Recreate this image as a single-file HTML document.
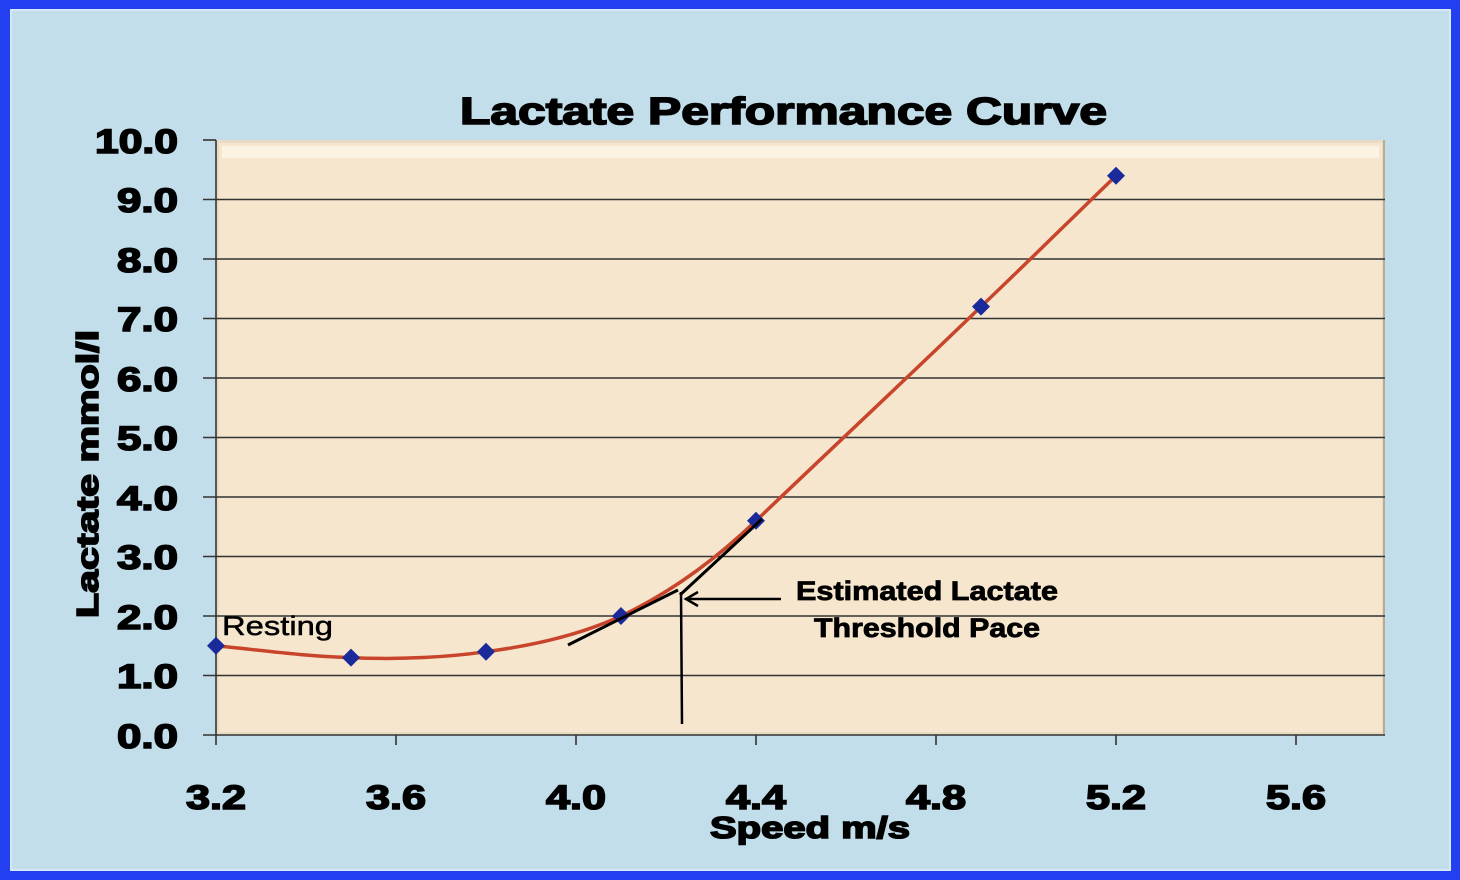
<!DOCTYPE html>
<html><head><style>
html,body{margin:0;padding:0;background:#fff;}
svg{display:block;}
text{font-family:"Liberation Sans",Arial,sans-serif;font-weight:bold;fill:#000;}
.hv{stroke:#000;stroke-width:1.6px;}
</style></head><body>
<svg width="1460" height="880" viewBox="0 0 1460 880" xmlns="http://www.w3.org/2000/svg">
<rect x="0" y="0" width="1460" height="880" fill="#2340f0"/>
<rect x="10" y="9" width="1441" height="862" fill="#d6e8f2"/>
<rect x="12" y="11" width="1437" height="858" fill="#c2deea"/>
<rect x="216" y="140" width="1169" height="595" fill="#e8dcc4"/>
<rect x="219" y="143" width="1163" height="589" fill="#f5e6cd"/>
<rect x="222" y="146" width="1157" height="12" fill="#fdf6ea" opacity="0.8"/>
<line x1="216" y1="140" x2="216" y2="735" stroke="#555" stroke-width="2"/>
<line x1="1384" y1="140" x2="1384" y2="735" stroke="#b9ac95" stroke-width="2"/>
<g stroke="#333" stroke-width="1.6">
<line x1="203" y1="140" x2="216" y2="140"/>
<line x1="203" y1="199.5" x2="1385" y2="199.5"/>
<line x1="203" y1="259" x2="1385" y2="259"/>
<line x1="203" y1="318.5" x2="1385" y2="318.5"/>
<line x1="203" y1="378" x2="1385" y2="378"/>
<line x1="203" y1="437.5" x2="1385" y2="437.5"/>
<line x1="203" y1="497" x2="1385" y2="497"/>
<line x1="203" y1="556.5" x2="1385" y2="556.5"/>
<line x1="203" y1="616" x2="1385" y2="616"/>
<line x1="203" y1="675.5" x2="1385" y2="675.5"/>
<line x1="203" y1="735" x2="1385" y2="735"/>
<line x1="216" y1="735" x2="216" y2="745"/>
<line x1="396" y1="735" x2="396" y2="745"/>
<line x1="576" y1="735" x2="576" y2="745"/>
<line x1="756" y1="735" x2="756" y2="745"/>
<line x1="936" y1="735" x2="936" y2="745"/>
<line x1="1116" y1="735" x2="1116" y2="745"/>
<line x1="1296" y1="735" x2="1296" y2="745"/>
</g>
<g font-size="34" class="hv">
<text x="95" y="153" textLength="83" lengthAdjust="spacingAndGlyphs">10.0</text>
<text x="117" y="212" textLength="61" lengthAdjust="spacingAndGlyphs">9.0</text>
<text x="117" y="272" textLength="61" lengthAdjust="spacingAndGlyphs">8.0</text>
<text x="117" y="331" textLength="61" lengthAdjust="spacingAndGlyphs">7.0</text>
<text x="117" y="391" textLength="61" lengthAdjust="spacingAndGlyphs">6.0</text>
<text x="117" y="450" textLength="61" lengthAdjust="spacingAndGlyphs">5.0</text>
<text x="117" y="510" textLength="61" lengthAdjust="spacingAndGlyphs">4.0</text>
<text x="117" y="569" textLength="61" lengthAdjust="spacingAndGlyphs">3.0</text>
<text x="117" y="629" textLength="61" lengthAdjust="spacingAndGlyphs">2.0</text>
<text x="117" y="688" textLength="61" lengthAdjust="spacingAndGlyphs">1.0</text>
<text x="117" y="748" textLength="61" lengthAdjust="spacingAndGlyphs">0.0</text>
</g>
<g font-size="34" class="hv">
<text x="186" y="809" textLength="60" lengthAdjust="spacingAndGlyphs">3.2</text>
<text x="366" y="809" textLength="60" lengthAdjust="spacingAndGlyphs">3.6</text>
<text x="546" y="809" textLength="60" lengthAdjust="spacingAndGlyphs">4.0</text>
<text x="726" y="809" textLength="60" lengthAdjust="spacingAndGlyphs">4.4</text>
<text x="906" y="809" textLength="60" lengthAdjust="spacingAndGlyphs">4.8</text>
<text x="1086" y="809" textLength="60" lengthAdjust="spacingAndGlyphs">5.2</text>
<text x="1266" y="809" textLength="60" lengthAdjust="spacingAndGlyphs">5.6</text>
</g>
<text x="710" y="838" font-size="31" class="hv" textLength="200" lengthAdjust="spacingAndGlyphs">Speed m/s</text>
<text transform="translate(98,618) rotate(-90)" font-size="31" class="hv" textLength="288" lengthAdjust="spacingAndGlyphs">Lactate mmol/l</text>
<text x="460" y="124" font-size="38" class="hv" textLength="647" lengthAdjust="spacingAndGlyphs">Lactate Performance Curve</text>
<path d="M216,645.8 C260,650 300,656 351,657.6 C400,660 450,657 486,651.7 C530,646 580,635 621,616 C670,593 715,560 756,520.8 C830,450 905,380 981,306.6 C1030,260 1070,220 1116,175.7" fill="none" stroke="#c8442a" stroke-width="3.5"/>
<g fill="#1a2a9a">
<path d="M216,636.8 l9,9 -9,9 -9,-9z"/>
<path d="M351,648.6 l9,9 -9,9 -9,-9z"/>
<path d="M486,642.7 l9,9 -9,9 -9,-9z"/>
<path d="M621,607 l9,9 -9,9 -9,-9z"/>
<path d="M756,511.8 l9,9 -9,9 -9,-9z"/>
<path d="M981,297.6 l9,9 -9,9 -9,-9z"/>
<path d="M1116,166.7 l9,9 -9,9 -9,-9z"/>
</g>
<g stroke="#000" stroke-width="3" fill="none">
<line x1="568" y1="645" x2="678" y2="590"/>
<line x1="680" y1="595" x2="762" y2="519"/>
</g>
<line x1="681" y1="592" x2="682" y2="724" stroke="#000" stroke-width="2.5"/>
<line x1="781" y1="599" x2="688" y2="599" stroke="#000" stroke-width="2.5"/>
<path d="M698,592 L686,599 L698,606" fill="none" stroke="#000" stroke-width="2.5"/>
<text x="222" y="635" font-size="27" style="font-weight:normal;stroke:#000;stroke-width:0.5px" textLength="111" lengthAdjust="spacingAndGlyphs">Resting</text>
<text x="796" y="600" font-size="27" class="hv" style="stroke-width:0.8px" textLength="262" lengthAdjust="spacingAndGlyphs">Estimated Lactate</text>
<text x="814" y="637" font-size="27" class="hv" style="stroke-width:0.8px" textLength="226" lengthAdjust="spacingAndGlyphs">Threshold Pace</text>
</svg>
</body></html>
